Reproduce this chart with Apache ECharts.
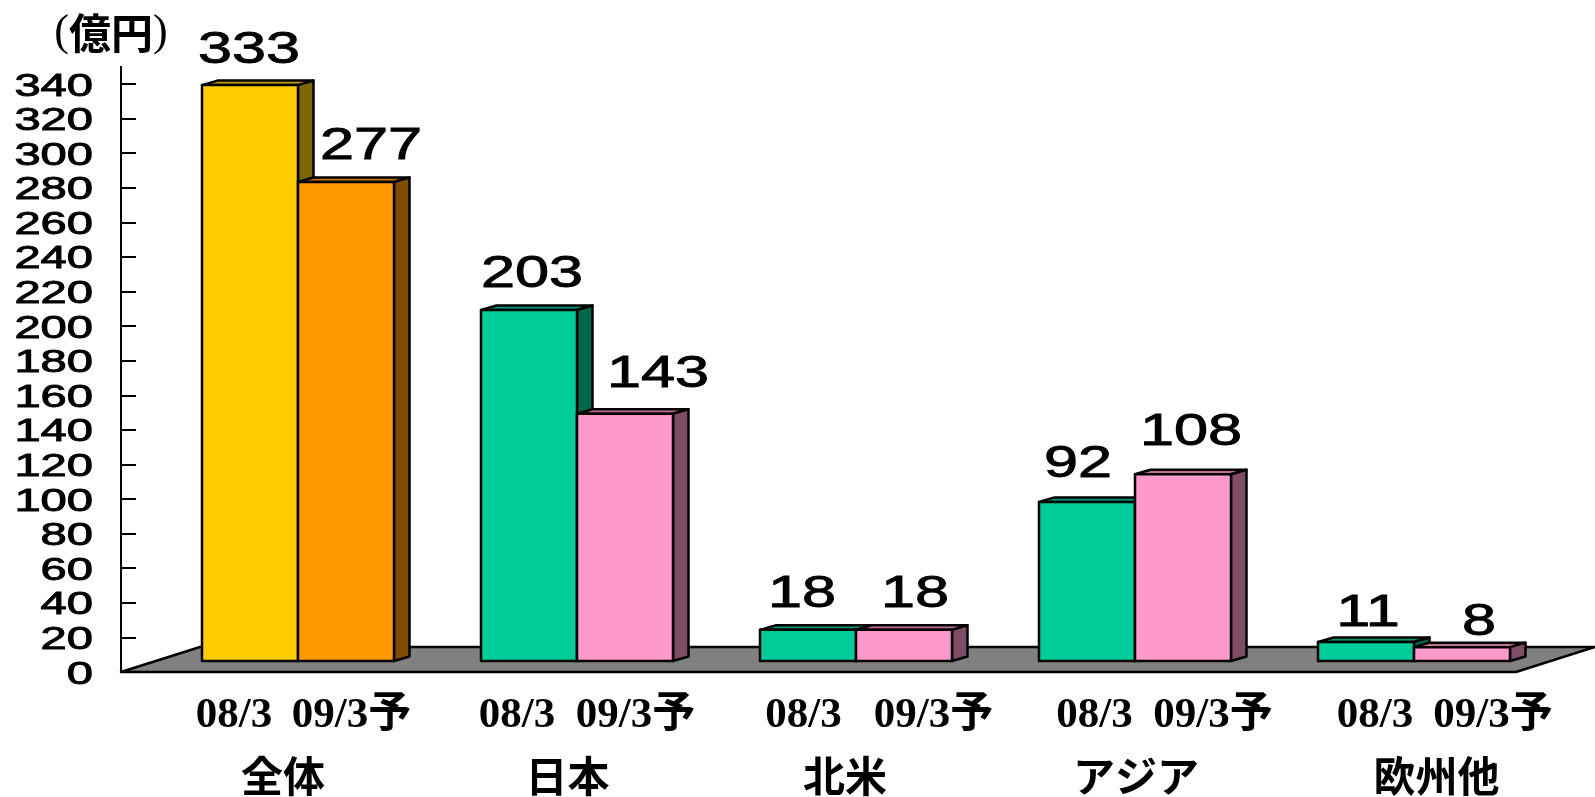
<!DOCTYPE html>
<html>
<head>
<meta charset="utf-8">
<style>html,body{margin:0;padding:0;background:#fff}#c{width:1595px;height:797px}</style>
<script src="https://cdn.jsdelivr.net/npm/echarts@6/dist/echarts.min.js"></script>
</head>
<body>
<div id="c"></div>
<script>
// ---- data ----
var categories = ['全体', '日本', '北米', 'アジア', '欧州他'];
var periodLabels = ['08/3', '09/3予'];
var values0803 = [333, 203, 18, 92, 11];
var values0903 = [277, 143, 18, 108, 8];
var yTicks = [0, 20, 40, 60, 80, 100, 120, 140, 160, 180, 200, 220, 240, 260, 280, 300, 320, 340];

// ---- styling / layout constants ----
var BAR_W = 96, MID_SHIFT = 37.5, BASE_DY = -11, DX = 15.5, DY = -4.5;
var FLOOR_DX = 79, FLOOR_DY = -25;
var palettes = {
  total: [{f:'#FFCC00', t:'#C29C00', s:'#806600'}, {f:'#FF9900', t:'#C07300', s:'#804D00'}],
  region: [{f:'#00CC99', t:'#009973', s:'#00664D'}, {f:'#FF99CC', t:'#C07399', s:'#804D66'}]
};
var labelNudge = [
  [[-1, -35], [25, -35]],
  [[3, -35], [33, -39]],
  [[-6, -35], [11, -35]],
  [[-9, -37], [8, -42]],
  [[2, -28], [17, -25]]
];
var periodNudge = [[-26.5, 91], [-22.5, 96], [-15, 115], [-3, 115.5], [-1.5, 116.5]];
var nameNudge = [22.5, 28, 26.5, 38.5, 60];
var PERIOD_Y = 716, NAME_Y = 776;
var INK = '#000';

function polygon(points, fill) {
  return {type:'polygon', shape:{points:points},
    style:{fill:fill, stroke:INK, lineWidth:2.5, lineJoin:'round'}};
}
function stretched(x, y, text, fontSize, sx, align) {
  return {type:'text', x:x, y:y, scaleX:sx, silent:true, style:{
    text:text, fill:INK, stroke:INK, lineWidth:0.9,
    fontFamily:'"Liberation Sans", Arial, sans-serif', fontSize:fontSize,
    align:align, verticalAlign:'middle'}};
}

function barRenderer(which) {
  return function (params, api) {
    var i = api.value(0), v = api.value(1);
    var mid = api.coord([i, 0])[0] + MID_SHIFT;
    var base = api.coord([i, 0])[1] + BASE_DY;
    var top = api.coord([i, v])[1] + BASE_DY;
    var x0 = which === 0 ? mid - BAR_W : mid;
    var x1 = x0 + BAR_W;
    var pal = (i === 0 ? palettes.total : palettes.region)[which];
    var n = labelNudge[i][which];
    return {type:'group', children:[
      polygon([[x0,top],[x0+DX,top+DY],[x1+DX,top+DY],[x1,top]], pal.t),
      polygon([[x1,top],[x1+DX,top+DY],[x1+DX,base+DY],[x1,base]], pal.s),
      polygon([[x0,base],[x1,base],[x1,top],[x0,top]], pal.f),
      stretched((x0+x1)/2+n[0], top+n[1], String(v), 45, 1.36, 'center')
    ]};
  };
}

var option = {
  animation:false,
  backgroundColor:'#fff',
  grid:{left:121, right:79, top:84, bottom:125, containLabel:false},
  xAxis:{type:'category', data:categories, axisLine:{show:false}, axisTick:{show:false},
    axisLabel:{show:false}, splitLine:{show:false}},
  yAxis:{type:'value', min:0, max:340, interval:20,
    name:'{p|(}{c|億円}{p|)}', nameLocation:'end', nameGap:51,
    nameTextStyle:{color:INK, align:'center', verticalAlign:'middle', padding:[0,20,0,0],
      rich:{
        p:{fontFamily:'"Liberation Serif",serif', fontSize:44, color:INK},
        c:{fontFamily:'"Noto Sans CJK JP",sans-serif', fontSize:42, fontWeight:'bold', color:INK}
      }},
    axisLine:{show:true, lineStyle:{color:INK, width:2}},
    axisTick:{show:true, inside:true, length:15, lineStyle:{color:INK, width:2}},
    axisLabel:{show:false}, splitLine:{show:false}},
  series:[
    { // floor & top stub of the axis
      type:'custom', name:'floor', coordinateSystem:'cartesian2d', clip:false, silent:true, z:1,
      data:[[0, 0]],
      encode:{x:0, y:1},
      renderItem:function (params, api) {
        var cs = params.coordSys;
        var y0 = api.coord([0, 0])[1];
        var yTop = api.coord([0, 340])[1];
        return {type:'group', children:[
          polygon([[cs.x,y0],[cs.x+FLOOR_DX,y0+FLOOR_DY],[cs.x+cs.width+FLOOR_DX,y0+FLOOR_DY],[cs.x+cs.width,y0]], '#808080'),
          {type:'line', shape:{x1:cs.x,y1:yTop,x2:cs.x,y2:yTop-18}, style:{stroke:INK,lineWidth:2}}
        ]};
      }
    },
    {type:'custom', name:periodLabels[0], coordinateSystem:'cartesian2d', clip:false, silent:true, z:2,
     data:values0803.map(function(v,i){return [i,v];}), encode:{x:0,y:1}, renderItem:barRenderer(0)},
    {type:'custom', name:periodLabels[1], coordinateSystem:'cartesian2d', clip:false, silent:true, z:3,
     data:values0903.map(function(v,i){return [i,v];}), encode:{x:0,y:1}, renderItem:barRenderer(1)},
    { // y tick labels
      type:'custom', name:'yticks', coordinateSystem:'cartesian2d', clip:false, silent:true, z:4,
      data:yTicks.map(function(v){return [0,v];}), encode:{x:0,y:1},
      renderItem:function (params, api) {
        var y = api.coord([0, api.value(1)])[1];
        return stretched(params.coordSys.x - 28, y + 3, String(api.value(1)), 31, 1.52, 'right');
      }
    },
    { // category labels
      type:'custom', name:'xlabels', coordinateSystem:'cartesian2d', clip:false, silent:true, z:4,
      data:categories.map(function(c,i){return [i,0];}), encode:{x:0,y:1},
      renderItem:function (params, api) {
        var i = api.value(0);
        var c = api.coord([i, 0])[0];
        var serif = '"Liberation Serif","Noto Sans CJK JP",serif';
        function t(x, y, text, size, fam) {
          return {type:'text', x:x, y:y, silent:true, style:{text:text, fill:INK, fontFamily:fam,
            fontSize:size, fontWeight:'bold', align:'center', verticalAlign:'middle'}};
        }
        return {type:'group', children:[
          t(c + periodNudge[i][0], PERIOD_Y, periodLabels[0], 43, serif),
          t(c + periodNudge[i][1], PERIOD_Y, periodLabels[1], 43, serif),
          t(c + nameNudge[i], NAME_Y, categories[i], 42, '"Noto Sans CJK JP",sans-serif')
        ]};
      }
    }
  ]
};
var chart = echarts.init(document.getElementById('c'), null, {renderer:'canvas'});
chart.setOption(option);
</script>
</body>
</html>
